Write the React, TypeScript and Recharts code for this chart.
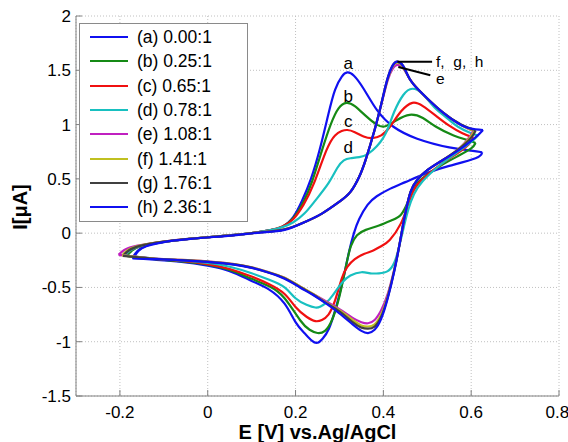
import React from 'react';
import { LineChart, Line, XAxis, YAxis, CartesianGrid, ReferenceLine, ReferenceDot, Legend } from 'recharts';

if (typeof document !== 'undefined') document.body.style.margin = '0';

type P = [number, number];

const seriesLabels = ['(a) 0.00:1', '(b) 0.25:1', '(c) 0.65:1', '(d) 0.78:1', '(e) 1.08:1', '(f) 1.41:1', '(g) 1.76:1', '(h) 2.36:1'];
const seriesColors = ['#1010f0', '#158a15', '#f01010', '#18c0c0', '#c020c0', '#c0c020', '#404040', '#1010f0'];
const xTicks = [-0.2, 0, 0.2, 0.4, 0.6, 0.8];
const yTicks = [-1.5, -1, -0.5, 0, 0.5, 1, 1.5, 2];
const peakLabels = ['a', 'b', 'c', 'd'];
const peakLabelX = [0.32, 0.32, 0.32, 0.32];
const peakLabelY = [1.565, 1.26, 1.03, 0.79];

// (a) forward / reverse scans [E, I]
const aFwd: P[] = [[-0.172,-0.23],[-0.16,-0.165],[-0.14,-0.115],[-0.1,-0.08],[-0.05,-0.056],[0,-0.038],[0.05,-0.02],[0.1,0.0],[0.14,0.025],[0.17,0.06],[0.195,0.15],[0.215,0.3],[0.235,0.5],[0.255,0.77],[0.275,1.1],[0.29,1.32],[0.305,1.44],[0.318,1.48],[0.333,1.45],[0.355,1.33],[0.386,1.13],[0.423,0.98],[0.477,0.87],[0.55,0.79],[0.6,0.76],[0.625,0.745]];
const aRev: P[] = [[0.625,0.745],[0.61,0.69],[0.55,0.62],[0.5,0.555],[0.45,0.47],[0.416,0.41],[0.385,0.34],[0.364,0.26],[0.345,0.13],[0.333,0.0],[0.322,-0.17],[0.307,-0.45],[0.291,-0.7],[0.276,-0.88],[0.262,-0.97],[0.25,-1.01],[0.237,-0.99],[0.22,-0.92],[0.2,-0.82],[0.175,-0.65],[0.14,-0.52],[0.1,-0.44],[0.05,-0.35],[0,-0.3],[-0.06,-0.265],[-0.12,-0.245],[-0.172,-0.23]];
// (b)
const bFwd: P[] = [[-0.185,-0.21],[-0.172,-0.16],[-0.15,-0.115],[-0.1,-0.08],[-0.05,-0.056],[0,-0.038],[0.05,-0.02],[0.1,0.0],[0.14,0.025],[0.17,0.06],[0.195,0.14],[0.217,0.28],[0.238,0.48],[0.26,0.76],[0.28,1.0],[0.298,1.15],[0.316,1.2],[0.335,1.17],[0.36,1.08],[0.385,1.0],[0.405,0.985],[0.43,1.04],[0.46,1.09],[0.49,1.06],[0.52,0.98],[0.56,0.9],[0.59,0.86],[0.61,0.83]];
const bRev: P[] = [[0.61,0.83],[0.6,0.78],[0.57,0.71],[0.53,0.62],[0.49,0.51],[0.47,0.42],[0.455,0.28],[0.44,0.17],[0.42,0.12],[0.39,0.07],[0.36,0.03],[0.34,-0.02],[0.326,-0.12],[0.315,-0.3],[0.3,-0.58],[0.283,-0.8],[0.267,-0.9],[0.25,-0.92],[0.232,-0.89],[0.21,-0.8],[0.175,-0.6],[0.14,-0.49],[0.1,-0.42],[0.05,-0.34],[0,-0.29],[-0.06,-0.26],[-0.12,-0.24],[-0.185,-0.21]];
// (c)
const cFwd: P[] = [[-0.19,-0.205],[-0.177,-0.16],[-0.15,-0.115],[-0.1,-0.08],[-0.05,-0.056],[0,-0.038],[0.05,-0.02],[0.1,0.0],[0.14,0.025],[0.17,0.06],[0.195,0.13],[0.218,0.26],[0.242,0.46],[0.27,0.76],[0.29,0.9],[0.305,0.94],[0.318,0.95],[0.335,0.93],[0.355,0.89],[0.375,0.875],[0.395,0.9],[0.415,0.98],[0.44,1.12],[0.466,1.2],[0.49,1.17],[0.52,1.08],[0.55,0.99],[0.58,0.92],[0.605,0.88]];
const cRev: P[] = [[0.605,0.88],[0.595,0.82],[0.57,0.74],[0.53,0.63],[0.49,0.5],[0.47,0.4],[0.455,0.25],[0.44,0.09],[0.415,-0.06],[0.395,-0.12],[0.377,-0.16],[0.357,-0.19],[0.335,-0.24],[0.318,-0.31],[0.305,-0.42],[0.29,-0.62],[0.275,-0.75],[0.26,-0.8],[0.245,-0.81],[0.225,-0.77],[0.2,-0.68],[0.175,-0.56],[0.14,-0.47],[0.1,-0.4],[0.05,-0.33],[0,-0.285],[-0.06,-0.255],[-0.12,-0.238],[-0.19,-0.205]];
// (d)
const dFwd: P[] = [[-0.19,-0.205],[-0.177,-0.16],[-0.15,-0.115],[-0.1,-0.08],[-0.05,-0.056],[0,-0.038],[0.05,-0.02],[0.1,0.0],[0.14,0.025],[0.17,0.055],[0.195,0.1],[0.22,0.18],[0.245,0.3],[0.275,0.46],[0.295,0.6],[0.31,0.67],[0.325,0.69],[0.345,0.7],[0.365,0.73],[0.385,0.8],[0.4,0.88],[0.412,0.98],[0.425,1.12],[0.445,1.27],[0.466,1.33],[0.49,1.28],[0.516,1.16],[0.545,1.06],[0.57,0.98],[0.6,0.92],[0.615,0.9]];
const dRev: P[] = [[0.615,0.9],[0.6,0.84],[0.57,0.75],[0.53,0.63],[0.49,0.48],[0.47,0.36],[0.457,0.22],[0.445,0.03],[0.435,-0.14],[0.425,-0.27],[0.41,-0.35],[0.39,-0.37],[0.37,-0.37],[0.35,-0.36],[0.325,-0.39],[0.305,-0.46],[0.285,-0.57],[0.27,-0.64],[0.257,-0.675],[0.245,-0.685],[0.225,-0.66],[0.2,-0.6],[0.175,-0.5],[0.14,-0.43],[0.1,-0.37],[0.05,-0.31],[0,-0.275],[-0.06,-0.25],[-0.12,-0.235],[-0.19,-0.205]];
// (e)
const eFwd: P[] = [[-0.203,-0.2],[-0.19,-0.155],[-0.16,-0.115],[-0.1,-0.078],[-0.05,-0.055],[0,-0.038],[0.06,-0.018],[0.12,0.008],[0.175,0.035],[0.22,0.1],[0.26,0.18],[0.3,0.29],[0.325,0.38],[0.345,0.52],[0.36,0.68],[0.38,0.95],[0.397,1.21],[0.41,1.41],[0.422,1.52],[0.432,1.55],[0.445,1.52],[0.46,1.42],[0.48,1.32],[0.5,1.24],[0.536,1.11],[0.575,1.0],[0.605,0.94]];
const eRev: P[] = [[0.605,0.94],[0.595,0.88],[0.57,0.77],[0.53,0.66],[0.5,0.58],[0.477,0.49],[0.462,0.38],[0.452,0.22],[0.445,0.08],[0.437,-0.1],[0.425,-0.33],[0.41,-0.56],[0.395,-0.71],[0.38,-0.8],[0.365,-0.83],[0.35,-0.82],[0.33,-0.78],[0.3,-0.7],[0.27,-0.63],[0.24,-0.56],[0.21,-0.49],[0.175,-0.41],[0.136,-0.355],[0.1,-0.315],[0.06,-0.285],[0,-0.26],[-0.06,-0.245],[-0.12,-0.235],[-0.203,-0.2]];
// (f)
const fFwd: P[] = [[-0.195,-0.205],[-0.183,-0.158],[-0.155,-0.115],[-0.1,-0.078],[-0.05,-0.055],[0,-0.038],[0.06,-0.018],[0.12,0.008],[0.175,0.035],[0.22,0.1],[0.26,0.18],[0.3,0.29],[0.325,0.38],[0.345,0.52],[0.36,0.68],[0.38,0.95],[0.397,1.22],[0.41,1.42],[0.422,1.54],[0.432,1.57],[0.445,1.53],[0.46,1.42],[0.48,1.32],[0.5,1.24],[0.536,1.11],[0.575,1.0],[0.607,0.94]];
const fRev: P[] = [[0.607,0.94],[0.597,0.88],[0.57,0.77],[0.53,0.66],[0.5,0.58],[0.477,0.49],[0.462,0.38],[0.452,0.22],[0.445,0.08],[0.437,-0.1],[0.425,-0.34],[0.41,-0.58],[0.395,-0.75],[0.38,-0.84],[0.365,-0.86],[0.35,-0.85],[0.33,-0.8],[0.3,-0.71],[0.27,-0.64],[0.24,-0.56],[0.21,-0.49],[0.175,-0.41],[0.136,-0.355],[0.1,-0.315],[0.06,-0.285],[0,-0.262],[-0.06,-0.247],[-0.12,-0.236],[-0.195,-0.205]];
// (g)
const gFwd: P[] = [[-0.193,-0.21],[-0.18,-0.16],[-0.152,-0.115],[-0.1,-0.078],[-0.05,-0.055],[0,-0.038],[0.06,-0.018],[0.12,0.008],[0.175,0.035],[0.22,0.1],[0.26,0.18],[0.3,0.29],[0.325,0.38],[0.345,0.52],[0.36,0.68],[0.38,0.95],[0.397,1.22],[0.41,1.43],[0.422,1.55],[0.432,1.58],[0.445,1.54],[0.46,1.42],[0.48,1.32],[0.5,1.24],[0.536,1.11],[0.577,1.0],[0.61,0.945]];
const gRev: P[] = [[0.61,0.945],[0.6,0.88],[0.57,0.77],[0.53,0.66],[0.5,0.58],[0.477,0.49],[0.462,0.38],[0.452,0.22],[0.445,0.08],[0.437,-0.1],[0.425,-0.34],[0.41,-0.59],[0.395,-0.77],[0.38,-0.86],[0.365,-0.88],[0.35,-0.87],[0.33,-0.82],[0.3,-0.72],[0.27,-0.645],[0.24,-0.565],[0.21,-0.495],[0.175,-0.415],[0.136,-0.36],[0.1,-0.318],[0.06,-0.288],[0,-0.264],[-0.06,-0.248],[-0.12,-0.237],[-0.193,-0.21]];
// (h)
const hFwd: P[] = [[-0.17,-0.23],[-0.158,-0.165],[-0.14,-0.12],[-0.1,-0.082],[-0.05,-0.058],[0,-0.04],[0.06,-0.02],[0.12,0.005],[0.175,0.03],[0.22,0.1],[0.26,0.18],[0.3,0.29],[0.325,0.38],[0.345,0.52],[0.36,0.68],[0.38,0.95],[0.397,1.22],[0.41,1.43],[0.422,1.55],[0.432,1.58],[0.445,1.54],[0.46,1.42],[0.48,1.32],[0.5,1.24],[0.536,1.11],[0.58,0.99],[0.61,0.955],[0.627,0.95]];
const hRev: P[] = [[0.627,0.95],[0.615,0.9],[0.6,0.85],[0.57,0.76],[0.53,0.66],[0.5,0.58],[0.477,0.49],[0.462,0.38],[0.452,0.22],[0.445,0.08],[0.437,-0.1],[0.425,-0.35],[0.41,-0.6],[0.395,-0.79],[0.38,-0.89],[0.365,-0.92],[0.35,-0.9],[0.33,-0.84],[0.3,-0.74],[0.27,-0.65],[0.24,-0.57],[0.21,-0.5],[0.175,-0.42],[0.136,-0.36],[0.1,-0.32],[0.06,-0.29],[0,-0.265],[-0.06,-0.25],[-0.12,-0.24],[-0.17,-0.23]];

const forwardScans = [aFwd, bFwd, cFwd, dFwd, eFwd, fFwd, gFwd, hFwd];
const reverseScans = [aRev, bRev, cRev, dRev, eRev, fRev, gRev, hRev];

const toRows = (pts: P[]) => pts.map(([x, y]) => ({ x, y }));

const FONT = '"Liberation Sans", Arial, Helvetica, sans-serif';

const renderLegend = () => (
  <div style={{ width: 169, height: 199, border: '1px solid #8a8a8a', background: '#fff', boxSizing: 'border-box', paddingTop: 1, fontFamily: FONT, fontSize: 17.5, color: '#000' }}>
    {seriesLabels.map((l, i) => (
      <div key={i} style={{ display: 'flex', alignItems: 'center', height: 24.3 }}>
        <span style={{ display: 'inline-block', width: 38, height: 2, background: seriesColors[i], marginLeft: 10, marginRight: 9 }} />
        <span style={{ lineHeight: '20px' }}>{l}</span>
      </div>
    ))}
  </div>
);

const textLabel = (txt: string, anchor: 'middle' | 'start', size: number) => (props: any) => {
  const vb = props.viewBox || {};
  const cx = (vb.x ?? 0) + (vb.width ?? 0) / 2;
  const cy = (vb.y ?? 0) + (vb.height ?? 0) / 2;
  return (
    <text x={cx} y={cy} textAnchor={anchor} dominantBaseline="central" fontFamily={FONT} fontSize={size} fill="#000" style={{ whiteSpace: 'pre' }}>
      {txt}
    </text>
  );
};

export default function App() {
  return (
    <div style={{ width: 568, height: 442, background: '#fff' }}>
      <LineChart width={568} height={442} margin={{ top: 16, right: 9, bottom: 16, left: 16 }}>
        <CartesianGrid stroke="#c0c0c0" strokeDasharray="1 2" />
        <XAxis
          xAxisId={0}
          dataKey="x"
          type="number"
          domain={[-0.3, 0.8]}
          ticks={xTicks}
          allowDataOverflow
          height={30}
          tickSize={-6}
          tickMargin={16}
          stroke="#808080"
          tick={{ fill: '#000', fontSize: 17, fontFamily: FONT }}
          label={(props: any) => {
            const vb = props.viewBox || {};
            return (
              <text x={vb.x + vb.width / 2} y={432} textAnchor="middle" dominantBaseline="central" fontFamily={FONT} fontSize={20} fontWeight="bold" fill="#000">
                E [V] vs.Ag/AgCl
              </text>
            );
          }}
        />
        <XAxis xAxisId="top" orientation="top" type="number" domain={[-0.3, 0.8]} ticks={xTicks} allowDataOverflow height={0} tickSize={-6} tick={false} stroke="#808080" />
        <YAxis
          yAxisId={0}
          type="number"
          domain={[-1.5, 2]}
          ticks={yTicks}
          allowDataOverflow
          width={60}
          tickSize={-6}
          tickMargin={11}
          stroke="#808080"
          tick={{ fill: '#000', fontSize: 17, fontFamily: FONT }}
          label={() => (
            <text x={20} y={207} transform="rotate(-90 20 207)" textAnchor="middle" dominantBaseline="central" fontFamily={FONT} fontSize={20} fontWeight="bold" fill="#000">
              I[μA]
            </text>
          )}
        />
        <YAxis yAxisId="right" orientation="right" type="number" domain={[-1.5, 2]} ticks={yTicks} allowDataOverflow width={0} tickSize={-6} tick={false} stroke="#808080" />
        {forwardScans.map((pts, i) => (
          <Line key={'f' + i} data={toRows(pts)} dataKey="y" type="natural" stroke={seriesColors[i]} strokeWidth={2.2} dot={false} activeDot={false} isAnimationActive={false} legendType="none" />
        ))}
        {reverseScans.map((pts, i) => (
          <Line key={'r' + i} data={toRows(pts)} dataKey="y" type="natural" stroke={seriesColors[i]} strokeWidth={2.2} dot={false} activeDot={false} isAnimationActive={false} legendType="none" />
        ))}
        <ReferenceLine segment={[{ x: 0.432, y: 1.578 }, { x: 0.511, y: 1.578 }]} stroke="#000" strokeWidth={2} />
        <ReferenceLine segment={[{ x: 0.434, y: 1.53 }, { x: 0.507, y: 1.455 }]} stroke="#000" strokeWidth={2} />
        {peakLabels.map((t, i) => (
          <ReferenceDot key={t} x={peakLabelX[i]} y={peakLabelY[i]} r={0} fill="none" stroke="none" label={textLabel(t, 'middle', 17)} />
        ))}
        <ReferenceDot x={0.52} y={1.585} r={0} fill="none" stroke="none" label={textLabel('f,  g,  h', 'start', 15.5)} />
        <ReferenceDot x={0.52} y={1.42} r={0} fill="none" stroke="none" label={textLabel('e', 'start', 15.5)} />
        <Legend layout="vertical" align="center" verticalAlign="middle" wrapperStyle={{ left: 79, top: 23, width: 169, height: 199 }} content={renderLegend} />
      </LineChart>
    </div>
  );
}
